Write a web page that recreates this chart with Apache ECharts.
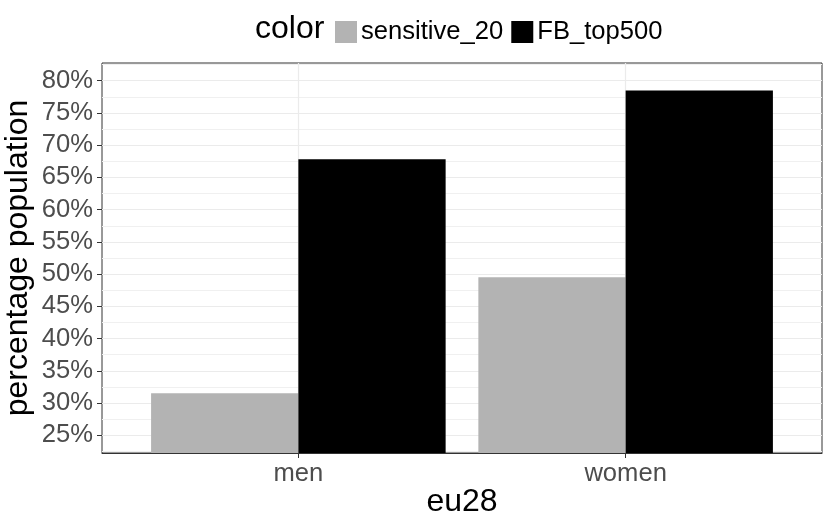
<!DOCTYPE html>
<html>
<head>
<meta charset="utf-8">
<script src="https://cdn.jsdelivr.net/npm/echarts@6/dist/echarts.min.js"></script>
<style>
  html, body { margin: 0; padding: 0; background: #fff; }
  #chart { width: 830px; height: 519px; }
</style>
</head>
<body>
<div id="chart"></div>
<script>
// data
const categories = ['men', 'women']
const sensitive20 = [31.5, 49.5]
const fbTop500 = [67.8, 78.5]
const yMajorTicks = [25, 30, 35, 40, 45, 50, 55, 60, 65, 70, 75, 80]
const yMinorTicks = [22.5, 27.5, 32.5, 37.5, 42.5, 47.5, 52.5, 57.5, 62.5, 67.5, 72.5, 77.5, 82.5]
const xTicks = [1, 2]

const font = '"Liberation Sans", Arial, sans-serif'
const chart = echarts.init(document.getElementById('chart'), null, { renderer: 'canvas' })

// ggplot style discrete axis: categories at 1..n, padded by 0.6
const toPoints = vals => vals.map((v, i) => [i + 1, v])

const option = {
  animation: false,
  backgroundColor: '#fff',
  textStyle: { fontFamily: font },
  title: {
    text: 'color',
    left: 255,
    top: 13,
    padding: 0,
    textStyle: { fontFamily: font, fontSize: 32, fontWeight: 'normal', color: '#000' }
  },
  legend: {
    left: 335,
    top: 19,
    padding: 0,
    itemWidth: 22,
    itemHeight: 22,
    itemGap: 8,
    icon: 'rect',
    data: ['sensitive_20', 'FB_top500'],
    textStyle: { fontFamily: font, fontSize: 25.6, color: '#000', padding: [0, 0, 0, -1] }
  },
  grid: {
    left: 102,
    right: 8,
    top: 63,
    bottom: 66,
    containLabel: false,
    outerBoundsMode: 'none',
    show: true,
    borderColor: '#333',
    borderWidth: 1,
    backgroundColor: '#fff'
  },
  xAxis: {
    type: 'value',
    min: 0.4,
    max: 2.6,
    name: 'eu28',
    nameLocation: 'middle',
    nameGap: 33,
    nameMoveOverlap: false,
    nameTextStyle: { fontFamily: font, fontSize: 32, color: '#000' },
    axisLine: { show: true, lineStyle: { color: '#333', width: 1 } },
    axisTick: { show: true, length: 5, customValues: xTicks, lineStyle: { color: '#333' } },
    axisLabel: {
      customValues: xTicks,
      margin: 8,
      fontFamily: font,
      fontSize: 25.6,
      color: '#4d4d4d',
      formatter: v => categories[Math.round(v) - 1] || ''
    },
    splitLine: { show: true, lineStyle: { color: '#ebebeb', width: 1.2 } }
  },
  yAxis: [
    {
      type: 'value',
      min: 22.25,
      max: 82.75,
      name: 'percentage population',
      nameLocation: 'middle',
      nameGap: 68,
      nameMoveOverlap: false,
      nameTextStyle: { fontFamily: font, fontSize: 32, color: '#000' },
      axisLine: { show: false },
      axisTick: { show: true, length: 5, customValues: yMajorTicks, lineStyle: { color: '#333' } },
      axisLabel: {
        customValues: yMajorTicks,
        margin: 9,
        fontFamily: font,
        fontSize: 25.6,
        color: '#4d4d4d',
        formatter: v => v + '%'
      },
      splitLine: { show: true, lineStyle: { color: '#ebebeb', width: 1.2 } }
    },
    {
      type: 'value',
      min: 22.25,
      max: 82.75,
      position: 'left',
      axisLine: { show: false },
      axisTick: { show: false, customValues: yMinorTicks },
      axisLabel: { show: false, customValues: yMinorTicks },
      splitLine: { show: true, lineStyle: { color: '#f0f0f0', width: 1 } }
    }
  ],
  series: [
    {
      name: 'sensitive_20',
      type: 'bar',
      yAxisIndex: 0,
      barWidth: '45%',
      barGap: '0%',
      itemStyle: { color: '#b3b3b3' },
      data: toPoints(sensitive20)
    },
    {
      name: 'FB_top500',
      type: 'bar',
      yAxisIndex: 0,
      barWidth: '45%',
      barGap: '0%',
      itemStyle: { color: '#000' },
      data: toPoints(fbTop500)
    }
  ]
}

chart.setOption(option)
</script>
</body>
</html>
